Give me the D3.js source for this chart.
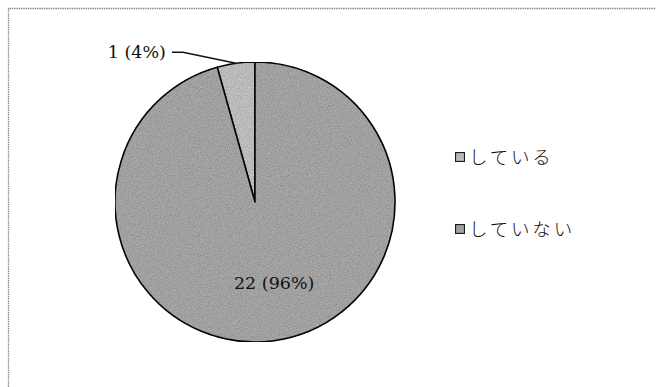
<!DOCTYPE html>
<html>
<head>
<meta charset="utf-8">
<script src="https://cdn.jsdelivr.net/npm/d3@7"></script>
<style>
  html, body { margin: 0; padding: 0; background: #fff; }
  svg { display: block; }
</style>
</head>
<body>
<svg id="chart" width="656" height="387"></svg>
<script>
// Survey answers: count per response
const categories = ["している", "していない"];
const counts = [1, 22];
const sliceLabels = ["1 (4%)", "22 (96%)"];
const sliceColors = ["#c4c4c4", "#a9a9a9"];

const svg = d3.select("#chart");
const W = 656, H = 387;

// grain texture for the gray fills
const defs = svg.append("defs");
const grain = defs.append("filter").attr("id", "grain")
  .attr("x", 0).attr("y", 0).attr("width", 1).attr("height", 1);
grain.append("feTurbulence").attr("type", "fractalNoise")
  .attr("baseFrequency", 1.1).attr("numOctaves", 1).attr("seed", 3).attr("result", "n");
grain.append("feColorMatrix").attr("in", "n").attr("type", "matrix")
  .attr("values", "0 0 0 0 0  0 0 0 0 0  0 0 0 0 0  0 0 0 0.9 -0.35").attr("result", "na");
grain.append("feComposite").attr("in", "na").attr("in2", "SourceGraphic").attr("operator", "in").attr("result", "g");
const merge = grain.append("feMerge");
merge.append("feMergeNode").attr("in", "SourceGraphic");
merge.append("feMergeNode").attr("in", "g");

// chart frame
svg.append("path")
  .attr("d", `M8.5,${H} L8.5,8.5 L${W},8.5`)
  .attr("fill", "none").attr("stroke", "#8a8a8a").attr("stroke-width", 1.3)
  .attr("stroke-dasharray", "1.5,0.8");

const cx = 255, cy = 202, r = 140;
const total = d3.sum(counts);
const start = -2 * Math.PI * counts[0] / total;

const pie = d3.pie().sort(null).startAngle(start).endAngle(start + 2 * Math.PI);
const arcs = pie(counts);
const arc = d3.arc().innerRadius(0).outerRadius(r);

const g = svg.append("g").attr("transform", `translate(${cx},${cy})`);
g.selectAll("path.slice").data(arcs).enter().append("path")
  .attr("class", "slice")
  .attr("d", arc)
  .attr("fill", (d, i) => sliceColors[i])
  .attr("filter", "url(#grain)")
  .attr("stroke", "#111").attr("stroke-width", 1.6).attr("stroke-linejoin", "round");

const labelFont = "'DejaVu Serif', 'Liberation Serif', serif";

// label of the large slice, inside the pie
const big = arcs[1];
const bigPos = d3.arc().innerRadius(0).outerRadius(r * 1.17).centroid(big);
g.append("text")
  .attr("x", bigPos[0] + 8).attr("y", bigPos[1])
  .attr("dy", "0.35em")
  .attr("text-anchor", "middle")
  .attr("font-family", labelFont)
  .attr("font-size", 17.5).attr("fill", "#111")
  .text(sliceLabels[1]);

// label of the small slice with a leader line
const small = arcs[0];
const mid = (small.startAngle + small.endAngle) / 2;
const edge = [Math.sin(mid) * r, -Math.cos(mid) * r];
const elbow = [edge[0] - 53, edge[1] - 11];
g.append("path")
  .attr("d", d3.line()([[elbow[0] - 11, elbow[1]], elbow, edge]))
  .attr("fill", "none").attr("stroke", "#111").attr("stroke-width", 1.5);
g.append("text")
  .attr("x", elbow[0] - 17).attr("y", elbow[1]).attr("dy", "0.32em")
  .attr("text-anchor", "end")
  .attr("font-family", labelFont)
  .attr("font-size", 17.5).attr("fill", "#111")
  .text(sliceLabels[0]);

// legend
const legendY = d3.scalePoint().domain(categories).range([157, 229]);
const lg = svg.append("g");
const items = lg.selectAll("g").data(categories).enter().append("g")
  .attr("transform", d => `translate(455,${legendY(d)})`);
items.append("rect")
  .attr("x", 0.5).attr("y", -4.5).attr("width", 9).attr("height", 9)
  .attr("fill", (d, i) => sliceColors[i])
  .attr("filter", "url(#grain)")
  .attr("stroke", "#222").attr("stroke-width", 1.2);
items.append("text")
  .attr("x", 14).attr("y", 0).attr("dy", "0.36em")
  .attr("font-family", "'Noto Sans CJK JP', sans-serif")
  .attr("font-weight", 300)
  .attr("font-size", 18.5).attr("letter-spacing", 2.8).attr("fill", "#111")
  .text(d => d);
</script>
</body>
</html>
